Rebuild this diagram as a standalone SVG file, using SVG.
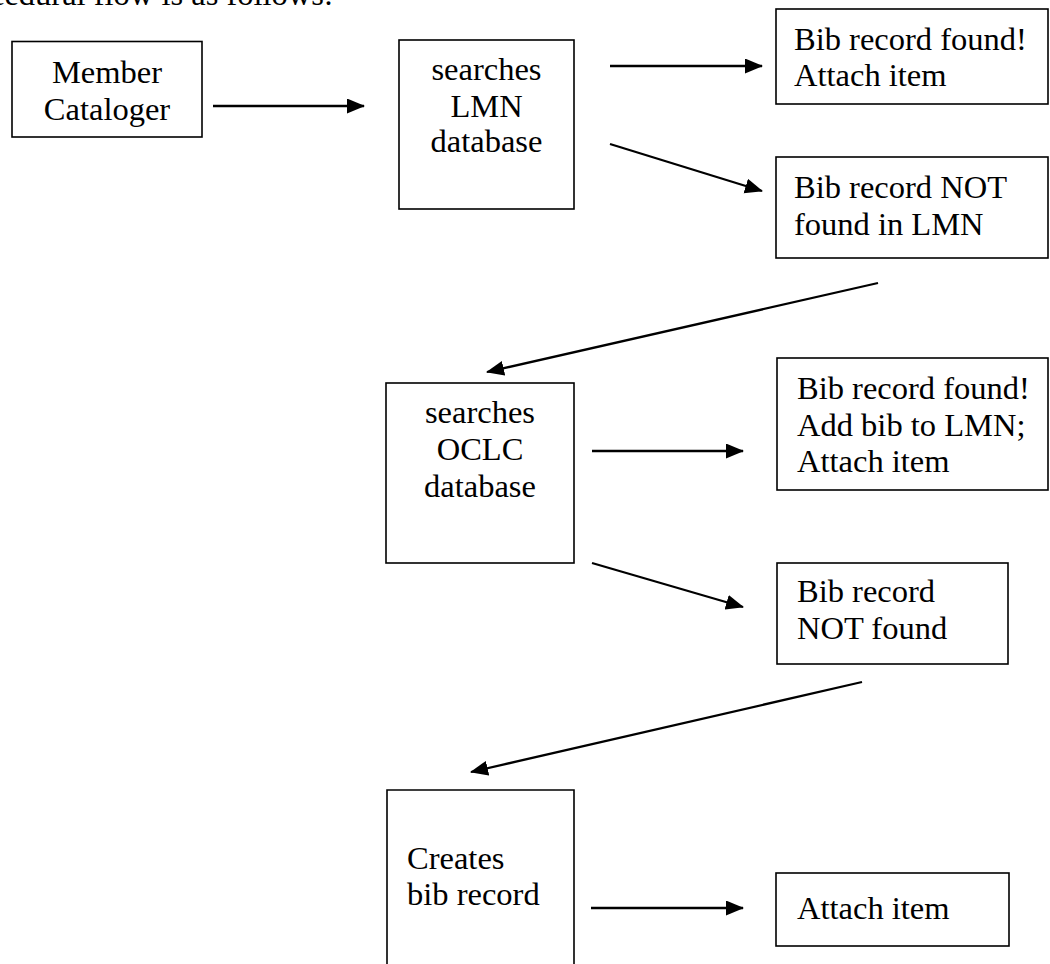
<svg xmlns="http://www.w3.org/2000/svg" width="1050" height="964" viewBox="0 0 1050 964">
  <style>
    .box { fill: #ffffff; stroke: #000000; stroke-width: 1.6; }
    .t { font-family: "Liberation Serif", "Times New Roman", serif; font-size: 32.5px; fill: #000000; }
    .c { text-anchor: middle; }
    .conn line { stroke: #000000; stroke-width: 2.3; marker-end: url(#arrow); }
  </style>
  <defs>
    <marker id="arrow" markerUnits="userSpaceOnUse" markerWidth="19" markerHeight="16" refX="17" refY="7.5" orient="auto" viewBox="0 0 19 16">
      <path d="M0,0 L18,7.5 L0,15 z" fill="#000000"/>
    </marker>
  </defs>
  <rect width="1050" height="964" fill="#ffffff"/>

  <text class="t" x="333" y="5" text-anchor="end">ocedural flow is as follows:</text>

  <g id="member-cataloger">
    <rect class="box" x="12" y="41.5" width="190" height="95.5"/>
    <text class="t c" x="107" y="83">Member</text>
    <text class="t c" x="107" y="119.5">Cataloger</text>
  </g>

  <g id="searches-lmn">
    <rect class="box" x="399" y="40" width="175" height="169"/>
    <text class="t c" x="486.5" y="80">searches</text>
    <text class="t c" x="486.5" y="116.5">LMN</text>
    <text class="t c" x="486.5" y="152">database</text>
  </g>

  <g id="found-lmn">
    <rect class="box" x="776" y="9" width="272" height="95"/>
    <text class="t" x="794" y="50">Bib record found!</text>
    <text class="t" x="794" y="86">Attach item</text>
  </g>

  <g id="not-found-lmn">
    <rect class="box" x="776" y="157" width="272" height="101"/>
    <text class="t" x="794" y="198">Bib record NOT</text>
    <text class="t" x="794" y="234.5">found in LMN</text>
  </g>

  <g id="searches-oclc">
    <rect class="box" x="386" y="383" width="188" height="180"/>
    <text class="t c" x="480" y="423">searches</text>
    <text class="t c" x="480" y="460">OCLC</text>
    <text class="t c" x="480" y="497">database</text>
  </g>

  <g id="found-oclc">
    <rect class="box" x="777" y="358" width="271" height="132"/>
    <text class="t" x="797" y="399">Bib record found!</text>
    <text class="t" x="797" y="435.5">Add bib to LMN;</text>
    <text class="t" x="797" y="472">Attach item</text>
  </g>

  <g id="not-found">
    <rect class="box" x="777" y="563" width="231" height="101"/>
    <text class="t" x="797" y="602">Bib record</text>
    <text class="t" x="797" y="639">NOT found</text>
  </g>

  <g id="creates-bib">
    <path class="box" d="M387,970 L387,790 L574,790 L574,970"/>
    <text class="t" x="407" y="869">Creates</text>
    <text class="t" x="407" y="905">bib record</text>
  </g>

  <g id="attach-item">
    <rect class="box" x="776" y="873" width="233" height="73"/>
    <text class="t" x="797" y="919">Attach item</text>
  </g>

  <g id="connectors" class="conn">
    <line x1="213" y1="106" x2="364" y2="106"/>
    <line x1="610" y1="66" x2="762" y2="66"/>
    <line x1="610" y1="144" x2="762" y2="191"/>
    <line x1="878" y1="283" x2="487" y2="372"/>
    <line x1="592" y1="451" x2="743" y2="451"/>
    <line x1="592" y1="563" x2="743" y2="607"/>
    <line x1="862" y1="682" x2="471" y2="772"/>
    <line x1="591" y1="908" x2="743" y2="908"/>
  </g>
</svg>
